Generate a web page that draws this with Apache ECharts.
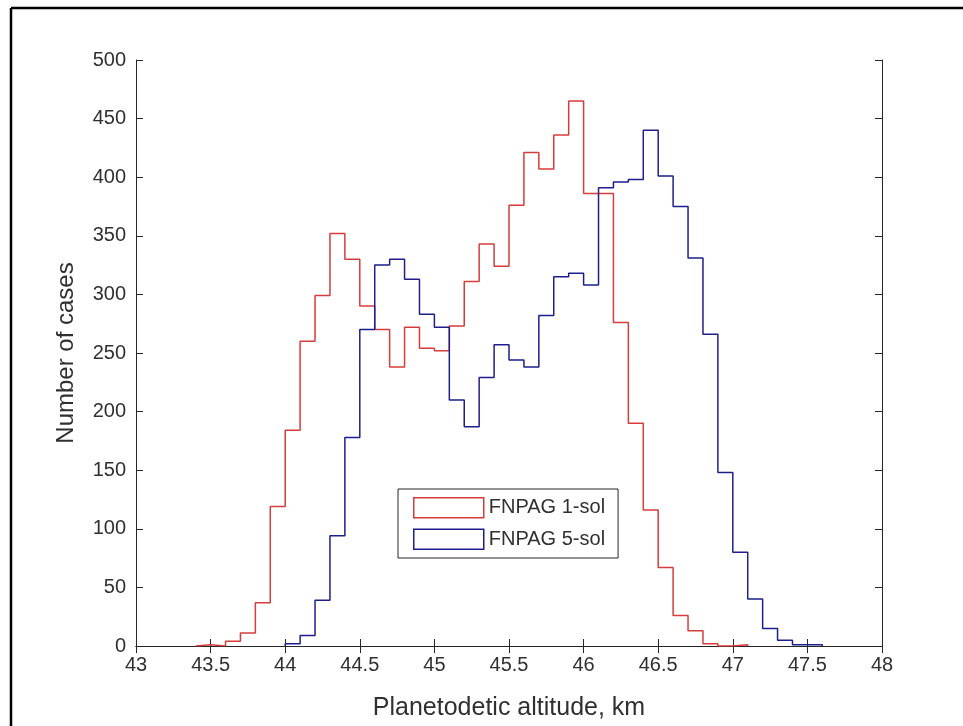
<!DOCTYPE html>
<html>
<head>
<meta charset="utf-8">
<script src="https://cdn.jsdelivr.net/npm/echarts@6/dist/echarts.min.js"></script>
<style>
  html, body { margin: 0; padding: 0; background: #ffffff; }
  #chart { width: 963px; height: 726px; }
</style>
</head>
<body>
<div id="chart"></div>
<script>
// Histogram bin edges (km), shared by both runs
const binEdges = [43.4, 43.5, 43.6, 43.7, 43.8, 43.9, 44.0, 44.1, 44.2, 44.3,
                  44.4, 44.5, 44.6, 44.7, 44.8, 44.9, 45.0, 45.1, 45.2, 45.3,
                  45.4, 45.5, 45.6, 45.7, 45.8, 45.9, 46.0, 46.1, 46.2, 46.3,
                  46.4, 46.5, 46.6, 46.7, 46.8, 46.9, 47.0, 47.1, 47.2, 47.3,
                  47.4, 47.5, 47.6];

// Counts per bin (null = bin not part of that histogram)
const countsOneSol = [1, 0, 4, 11, 37, 119, 184, 260, 299, 352,
                      330, 290, 270, 238, 272, 254, 252, 273, 311, 343,
                      324, 376, 421, 407, 436, 465, 386, 386, 276, 190,
                      116, 67, 26, 13, 2, 0, 1, null, null, null,
                      null, null];
const countsFiveSol = [null, null, null, null, null, null, 2, 9, 39, 94,
                       178, 270, 325, 330, 313, 283, 272, 210, 187, 229,
                       257, 244, 238, 282, 315, 318, 308, 391, 396, 398,
                       440, 401, 375, 331, 266, 148, 80, 40, 15, 5,
                       1, 1];

const seriesNames = ['FNPAG 1-sol', 'FNPAG 5-sol'];
const xTicks = { min: 43, max: 48, step: 0.5 };
const yTicks = { min: 0, max: 500, step: 50 };

const RED = '#d63c3c';
const BLUE = '#1e1e8c';
const AXIS = '#262626';
const TEXT = '#303030';
const FONT = '"Liberation Sans", Arial, Helvetica, sans-serif';

// Turn bin edges + counts into a stairs outline (base -> steps -> base)
function stairs(edges, counts) {
  const pts = [];
  let first = -1, last = -1;
  counts.forEach((c, i) => { if (c !== null) { if (first < 0) first = i; last = i; } });
  pts.push([edges[first], 0]);
  for (let i = first; i <= last; i++) {
    pts.push([edges[i], counts[i]]);
    pts.push([edges[i + 1], counts[i]]);
  }
  pts.push([edges[last + 1], 0]);
  return pts;
}

const chart = echarts.init(document.getElementById('chart'), null, { renderer: 'canvas' });

const tickLabel = { color: TEXT, fontFamily: FONT, fontSize: 20 };

const option = {
  backgroundColor: '#ffffff',
  animation: false,
  grid: { left: 136, top: 60, right: 81, bottom: 76, containLabel: false },
  xAxis: [
    {
      type: 'value', min: xTicks.min, max: xTicks.max, interval: xTicks.step,
      position: 'bottom',
      name: 'Planetodetic altitude, km', nameLocation: 'middle', nameGap: 50,
      nameTextStyle: { color: TEXT, fontFamily: FONT, fontSize: 25 },
      axisLine: { show: true, lineStyle: { color: AXIS, width: 1 } },
      axisTick: { show: true, inside: true, length: 7, lineStyle: { color: AXIS } },
      axisLabel: Object.assign({ margin: 9 }, tickLabel),
      splitLine: { show: false }
    },
    {
      type: 'value', min: xTicks.min, max: xTicks.max, interval: xTicks.step,
      position: 'top',
      axisLine: { show: true, lineStyle: { color: AXIS, width: 1 } },
      axisTick: { show: true, inside: true, length: 7, lineStyle: { color: AXIS } },
      axisLabel: { show: false },
      splitLine: { show: false }
    }
  ],
  yAxis: [
    {
      type: 'value', min: yTicks.min, max: yTicks.max, interval: yTicks.step,
      position: 'left',
      name: 'Number of cases', nameLocation: 'middle', nameGap: 58, nameRotate: 90,
      nameTextStyle: { color: TEXT, fontFamily: FONT, fontSize: 24 },
      axisLine: { show: true, lineStyle: { color: AXIS, width: 1 } },
      axisTick: { show: true, inside: true, length: 7, lineStyle: { color: AXIS } },
      axisLabel: Object.assign({ margin: 10 }, tickLabel),
      splitLine: { show: false }
    },
    {
      type: 'value', min: yTicks.min, max: yTicks.max, interval: yTicks.step,
      position: 'right',
      axisLine: { show: true, lineStyle: { color: AXIS, width: 1 } },
      axisTick: { show: true, inside: true, length: 7, lineStyle: { color: AXIS } },
      axisLabel: { show: false },
      splitLine: { show: false }
    }
  ],
  legend: {
    orient: 'vertical',
    left: 398, top: 489,
    padding: [8, 13, 8, 15],
    itemWidth: 70, itemHeight: 20, itemGap: 10,
    backgroundColor: '#ffffff',
    borderColor: AXIS, borderWidth: 1,
    textStyle: { color: TEXT, fontFamily: FONT, fontSize: 20, lineHeight: 20 },
    data: [
      { name: seriesNames[0], icon: 'rect',
        itemStyle: { color: 'rgba(0,0,0,0)', borderColor: RED, borderWidth: 1.5 } },
      { name: seriesNames[1], icon: 'rect',
        itemStyle: { color: 'rgba(0,0,0,0)', borderColor: BLUE, borderWidth: 1.5 } }
    ]
  },
  series: [
    {
      name: seriesNames[0], type: 'line', xAxisIndex: 0, yAxisIndex: 0,
      data: stairs(binEdges, countsOneSol),
      showSymbol: false, symbol: 'none',
      lineStyle: { color: RED, width: 1.5 }, itemStyle: { color: RED },
      z: 3
    },
    {
      name: seriesNames[1], type: 'line', xAxisIndex: 0, yAxisIndex: 0,
      data: stairs(binEdges, countsFiveSol),
      showSymbol: false, symbol: 'none',
      lineStyle: { color: BLUE, width: 1.5 }, itemStyle: { color: BLUE },
      z: 4
    }
  ],
  graphic: [
    { type: 'line', shape: { x1: 11, y1: 8, x2: 963, y2: 8 },
      style: { stroke: '#000000', lineWidth: 2.5 }, silent: true },
    { type: 'line', shape: { x1: 11, y1: 8, x2: 11, y2: 726 },
      style: { stroke: '#000000', lineWidth: 2.5 }, silent: true }
  ]
};

chart.setOption(option);
</script>
</body>
</html>
